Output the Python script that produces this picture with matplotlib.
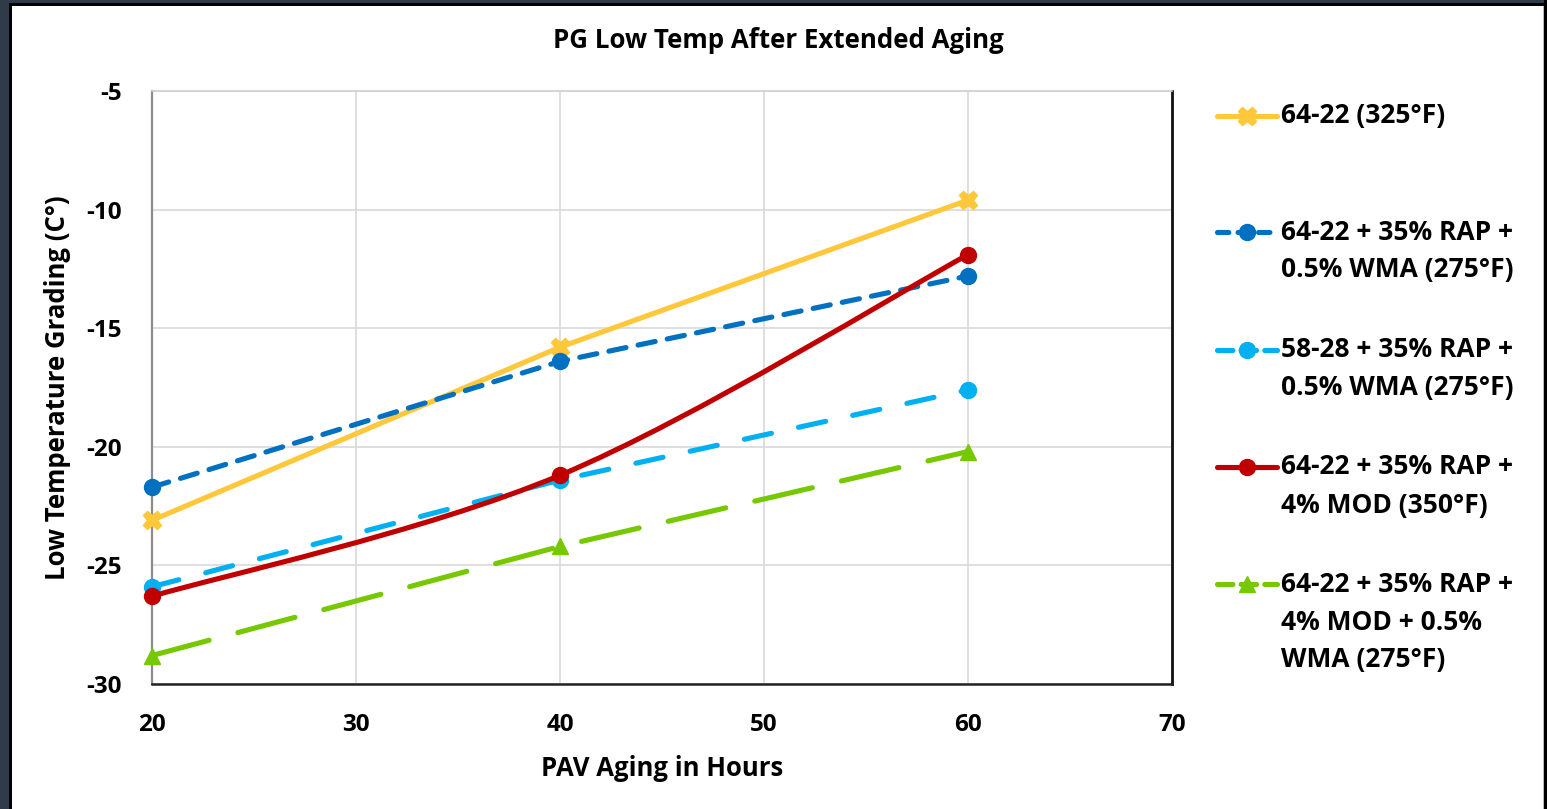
import numpy as np
import matplotlib
matplotlib.use('Agg')
import matplotlib.pyplot as plt
from matplotlib.path import Path
from matplotlib.patches import PathPatch, Rectangle
from matplotlib.lines import Line2D

plt.rcParams['font.family'] = ['Open Sans', 'DejaVu Sans']
plt.rcParams['font.weight'] = 'bold'
plt.rcParams['axes.unicode_minus'] = False

# PAV aging hours and low temperature grade (C)
hours = [20, 40, 60]
pg_64_22 = [-23.1, -15.8, -9.6]
pg_64_22_rap_wma = [-21.7, -16.4, -12.8]
pg_58_28_rap_wma = [-25.9, -21.4, -17.6]
pg_64_22_rap_mod = [-26.3, -21.2, -11.9]
pg_64_22_rap_mod_wma = [-28.8, -24.2, -20.2]

legend_lines = [
    ['64-22 (325°F)'],
    ['64-22 + 35% RAP +', '0.5% WMA (275°F)'],
    ['58-28 + 35% RAP +', '0.5% WMA (275°F)'],
    ['64-22 + 35% RAP +', '4% MOD (350°F)'],
    ['64-22 + 35% RAP +', '4% MOD + 0.5%', 'WMA (275°F)'],
]

W, H = 1547, 809
fig = plt.figure(figsize=(W / 100, H / 100), dpi=100)
fig.patch.set_facecolor('white')


def fx(px):
    return px / W


def fy(py):
    return 1 - py / H


ax = fig.add_axes([fx(152), fy(684), fx(1172) - fx(152), fy(91) - fy(684)])

lw = 3.7
series = [
    dict(y=pg_64_22, color='#FFC83A', marker='X', ms=13, dashes=None),
    dict(y=pg_64_22_rap_wma, color='#0070C0', marker='o', ms=11.5, dashes=(3.4, 2.4)),
    dict(y=pg_58_28_rap_wma, color='#00B0F0', marker='o', ms=11.5, dashes=(5.4, 5.4)),
    dict(y=pg_64_22_rap_mod, color='#C00000', marker='o', ms=11.5, dashes=None),
    dict(y=pg_64_22_rap_mod_wma, color='#76C800', marker='^', ms=12, dashes=(11.5, 5.8)),
]


def smooth_path(x, y):
    # Catmull-Rom style bezier through the points (smoothed line)
    pts = np.column_stack([x, y]).astype(float)
    n = len(pts)
    verts = [pts[0]]
    codes = [Path.MOVETO]
    for i in range(n - 1):
        p0 = pts[max(i - 1, 0)]
        p1 = pts[i]
        p2 = pts[i + 1]
        p3 = pts[min(i + 2, n - 1)]
        verts += [p1 + (p2 - p0) / 6, p2 - (p3 - p1) / 6, p2]
        codes += [Path.CURVE4] * 3
    return Path(verts, codes)


for i, s in enumerate(series):
    if i == 3:
        ax.add_patch(PathPatch(smooth_path(hours, s['y']), fill=False, edgecolor=s['color'],
                               lw=lw, capstyle='round', joinstyle='round', zorder=3 + i))
        ax.plot(hours, s['y'], ls='none', marker=s['marker'], ms=s['ms'], color=s['color'],
                zorder=3 + i, clip_on=False)
    else:
        line, = ax.plot(hours, s['y'], color=s['color'], lw=lw, marker=s['marker'], ms=s['ms'],
                        solid_capstyle='round', dash_capstyle='round', zorder=3 + i, clip_on=False)
        if s['dashes']:
            line.set_dashes(s['dashes'])

ax.set_xlim(20, 70)
ax.set_ylim(-30, -5)
ax.set_xticks(range(20, 71, 10))
ax.set_yticks(range(-30, -4, 5))
ax.grid(True, color='#D9D9D9', lw=1.2, zorder=0)
ax.tick_params(length=0, labelsize=17.5)
ax.tick_params(axis='x', pad=21)
ax.tick_params(axis='y', pad=22)
for lab in ax.get_xticklabels() + ax.get_yticklabels():
    lab.set_fontweight('bold')

ax.spines['left'].set_color('#8C8C8C')
ax.spines['left'].set_linewidth(1.6)
ax.spines['top'].set_color('#D0D0D0')
ax.spines['top'].set_linewidth(1.2)
ax.spines['bottom'].set_color('#222222')
ax.spines['bottom'].set_linewidth(1.8)
ax.spines['right'].set_color('#111111')
ax.spines['right'].set_linewidth(2.0)

ax.set_xlabel('PAV Aging in Hours', fontsize=18.5, fontweight='bold', labelpad=13)
ax.set_ylabel('Low Temperature Grading (C°)', fontsize=18.5, fontweight='bold', labelpad=11)
fig.text(fx(778), fy(41), 'PG Low Temp After Extended Aging', fontsize=18.6, fontweight='bold',
         ha='center', va='center')

# legend drawn by hand so the key sits on the first line of each entry
entry_y = [116, 232, 350, 467, 584]
line_gap = 38
for s, lines, y0 in zip(series, legend_lines, entry_y):
    key = Line2D([fx(1217), fx(1277)], [fy(y0), fy(y0)], transform=fig.transFigure,
                 color=s['color'], lw=lw, solid_capstyle='round', dash_capstyle='round')
    if s['dashes']:
        key.set_dashes((2.2, 1.8) if s['dashes'][0] < 5 else (3.0, 1.6))
    fig.add_artist(key)
    fig.add_artist(Line2D([fx(1247)], [fy(y0)], transform=fig.transFigure, ls='none',
                          marker=s['marker'], ms=s['ms'], color=s['color']))
    for k, txt in enumerate(lines):
        fig.text(fx(1281), fy(y0 + k * line_gap), txt, fontsize=19, fontweight='bold',
                 ha='left', va='center')

# dark frame around the chart
frame = '#2F3B48'
fig.add_artist(Rectangle((0, 0), fx(9), 1, transform=fig.transFigure, color=frame, lw=0))
fig.add_artist(Rectangle((fx(9), 0), fx(2.5), 1, transform=fig.transFigure, color='black', lw=0))
fig.add_artist(Rectangle((0, fy(3)), 1, fy(0) - fy(3), transform=fig.transFigure, color=frame, lw=0))
fig.add_artist(Rectangle((fx(9), fy(5.5)), 1, fy(3) - fy(5.5), transform=fig.transFigure,
                         color='black', lw=0))
fig.add_artist(Rectangle((fx(1543), 0), fx(1.2), fy(5.5), transform=fig.transFigure,
                         color='#BBBBBB', lw=0))
fig.add_artist(Rectangle((fx(1544.2), 0), fx(3), 1, transform=fig.transFigure, color='black', lw=0))

fig.savefig('out.png', dpi=100)
